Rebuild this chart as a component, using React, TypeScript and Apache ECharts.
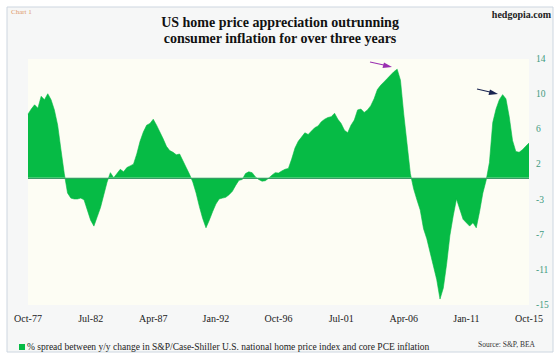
import React, { useEffect, useRef } from "react";
import * as echarts from "echarts";

// Quarterly spread (%), Oct-1977 .. Oct-2015
const spread: number[] = [
  7.5, 8.1, 8.6, 8.2, 9.6, 9.2, 9.9, 9.2, 8.0, 6.2,
  3.3, 0.5, -1.8, -2.4, -2.5, -2.5, -2.4, -2.6, -3.8, -5.0,
  -5.7, -4.6, -3.5, -2.0, -0.5, 0.6, 0.0, 0.5, 1.0, 0.7,
  1.2, 1.4, 1.6, 2.8, 4.3, 5.4, 6.2, 6.4, 6.9, 6.2,
  5.4, 4.6, 3.7, 3.2, 3.0, 2.7, 2.8, 2.0, 1.2, 0.4,
  -0.5, -1.8, -3.4, -4.8, -5.9, -5.0, -4.0, -3.1, -2.5, -2.4,
  -2.3, -2.0, -1.6, -0.9, -0.3, -0.2, 0.5, 0.7, 0.6, 0.1,
  -0.2, -0.4, -0.35, -0.05, 0.3, 0.6, 0.55, 0.8, 1.0, 1.1,
  2.2, 3.5, 4.3, 4.8, 5.3, 5.1, 5.5, 5.9, 6.1, 6.6,
  6.9, 7.1, 7.2, 7.6, 6.9, 6.4, 5.6, 5.3, 6.2, 6.8,
  8.0, 8.1, 7.7, 8.0, 8.5, 9.3, 10.4, 10.9, 11.3, 11.7,
  12.1, 12.5, 12.8, 11.5, 7.5, 4.0, 0.5, -1.3, -2.6, -3.8,
  -6.0, -7.2, -8.8, -10.4, -12.0, -14.3, -13.0, -10.2, -6.8, -4.5,
  -2.5, -3.7, -4.9, -5.3, -5.7, -5.3, -5.9, -4.0, -1.8, -0.3,
  1.8, 6.5, 8.1, 9.2, 9.8, 9.3, 7.2, 4.4, 3.1, 3.0,
  3.3, 3.7, 4.1,
];

const MONTHS = ["Jan", "Feb", "Mar", "Apr", "May", "Jun", "Jul", "Aug", "Sep", "Oct", "Nov", "Dec"];
const categories: string[] = spread.map((_, i) => {
  const m = 9 + 3 * i;
  const year = 1977 + Math.floor(m / 12);
  return `${MONTHS[m % 12]}-${String(year % 100).padStart(2, "0")}`;
});

const titleLines = ["US home price appreciation outrunning", "consumer inflation for over three years"];
const seriesName =
  "% spread between y/y change in S&P/Case-Shiller U.S. national home price index and core PCE inflation";
const yMin = -15;
const yMax = 14;

const FONT = "Liberation Serif";
const GREEN = "#06bb45";

export default function App() {
  const ref = useRef<HTMLDivElement>(null);
  useEffect(() => {
    if (!ref.current) return;
    const chart = echarts.init(ref.current, undefined, { renderer: "svg" });
    chart.setOption({
      animation: false,
      backgroundColor: "#ffffff",
      textStyle: { fontFamily: FONT },
      title: {
        text: titleLines.join("\n"),
        left: "center",
        top: 9,
        textStyle: { fontFamily: FONT, fontSize: 14, fontWeight: "bold", color: "#111", lineHeight: 16 },
      },
      grid: {
        left: 28,
        right: 31,
        top: 59,
        bottom: 56,
        show: true,
        backgroundColor: "#fdfdf4",
        borderWidth: 0,
      },
      legend: {
        left: 14,
        top: 337,
        itemWidth: 6,
        itemHeight: 6,
        itemGap: 4,
        icon: "rect",
        textStyle: { fontFamily: FONT, fontSize: 9.5, color: "#222", padding: [0, 0, 0, -3] },
        data: [seriesName],
      },
      xAxis: {
        type: "category",
        data: categories,
        boundaryGap: false,
        axisLine: { show: false, onZero: false },
        axisTick: { show: false },
        axisLabel: { interval: 18, fontFamily: FONT, fontSize: 10, color: "#222", margin: 8 },
        splitLine: { show: false },
      },
      yAxis: {
        type: "value",
        position: "right",
        min: yMin,
        max: yMax,
        interval: (yMax - yMin) / 7,
        axisLine: { show: false },
        axisTick: { show: false },
        splitLine: { show: false },
        axisLabel: {
          fontFamily: FONT,
          fontSize: 9.5,
          color: "#3d9a80",
          margin: 7,
          formatter: (v: number) => String(Math.round(v)),
        },
      },
      series: [
        {
          name: seriesName,
          type: "line",
          data: spread,
          showSymbol: false,
          symbol: "none",
          lineStyle: { width: 0.6, color: GREEN },
          itemStyle: { color: GREEN },
          areaStyle: { color: GREEN, opacity: 1, origin: 0 },
          markLine: {
            silent: true,
            symbol: "none",
            label: { show: false },
            lineStyle: { color: "#3a9a66", width: 1.2, type: "solid" },
            data: [{ yAxis: 0 }],
          },
        },
      ],
      graphic: [
        {
          type: "rect",
          z: -10,
          shape: { x: 7, y: 7, width: 546, height: 345 },
          style: { fill: "#f6f7f7", stroke: "#cdd6e0", lineWidth: 1 },
        },
        {
          type: "text",
          left: 11,
          top: 8,
          style: { text: "Chart 1", fontFamily: FONT, fontSize: 7, fill: "#e09a6a" },
        },
        {
          type: "text",
          right: 9,
          top: 9,
          style: { text: "hedgopia.com", fontFamily: FONT, fontSize: 10, fontWeight: "bold", fill: "#222" },
        },
        {
          type: "text",
          left: 478,
          top: 340,
          style: { text: "Source: S&P, BEA", fontFamily: FONT, fontSize: 7.5, fill: "#333" },
        },
        {
          type: "line",
          shape: { x1: 370, y1: 62, x2: 386, y2: 65.5 },
          style: { stroke: "#9a2fb0", lineWidth: 1.2 },
        },
        {
          type: "polygon",
          shape: { points: [[392, 67], [384, 62.5], [382.5, 68]] },
          style: { fill: "#9a2fb0" },
        },
        {
          type: "line",
          shape: { x1: 477, y1: 89, x2: 492, y2: 92.5 },
          style: { stroke: "#1a2550", lineWidth: 1.2 },
        },
        {
          type: "polygon",
          shape: { points: [[498, 94], [490, 89.5], [488.5, 95]] },
          style: { fill: "#1a2550" },
        },
      ],
    });
    return () => chart.dispose();
  }, []);
  return (
    <div
      ref={ref}
      style={{ position: "absolute", left: 0, top: 0, width: 560, height: 361 }}
    />
  );
}
